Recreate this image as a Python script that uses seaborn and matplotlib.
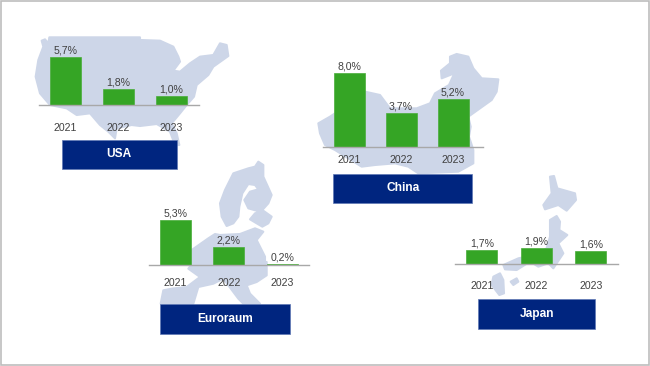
import matplotlib
matplotlib.use("Agg")
import matplotlib.pyplot as plt
import pandas as pd
import seaborn as sns
from matplotlib.patches import Polygon, Rectangle

sns.set_theme(style="white")
plt.rcParams["font.family"] = ["Liberation Sans", "DejaVu Sans"]

W, H = 650, 366
GREEN = "#35a525"
NAVY = "#00257f"
MAP = "#cdd6e8"
TEXT = "#404040"

years = ["2021", "2022", "2023"]
usa_values = [5.7, 1.8, 1.0]
china_values = [8.0, 3.7, 5.2]
euro_values = [5.3, 2.2, 0.2]
japan_values = [1.7, 1.9, 1.6]

# panel: name, values, axis left, right, baseline y, px per %, category spacing, tick pad, box(x0,x1,y0,y1)
panels = [
    ("USA", usa_values, 39, 199, 104.5, 8.4, 53.0, 13.0, (62, 176.5, 139.5, 169)),
    ("China", china_values, 323, 483, 146.7, 9.2, 52.0, 5.8, (333.3, 472, 173.7, 203)),
    ("Euroraum", euro_values, 148.7, 308.7, 265.3, 8.5, 53.5, 9.0, (159.7, 289.7, 304.3, 334)),
    ("Japan", japan_values, 454.7, 618.3, 264.3, 8.6, 54.5, 12.0, (478.3, 595.3, 299.3, 329.3)),
]

# decorative map silhouettes, (offset x, offset y, zoomed outline)
usa_shape = (0, 0, [(148,112),(420,112),(420,120),(480,122),(520,140),(535,170),(540,185),(520,212),(540,215),
    (570,190),(600,170),(640,165),(660,130),(680,135),(685,168),(640,200),(625,225),(590,255),(582,290),(560,315),
    (540,340),(515,370),(530,400),(538,435),(525,435),(510,395),(470,372),(420,378),(395,375),(350,385),(345,415),
    (325,395),(300,375),(270,340),(230,345),(200,325),(150,315),(120,280),(107,230),(115,180),(130,140),(125,122),
    (135,118),(145,130)])
china_shape = (325, 30, [(375,80),(395,72),(430,80),(445,115),(470,145),(520,148),(515,185),(500,210),(465,235),(430,260),
    (437,290),(432,320),(445,360),(445,400),(400,425),(280,430),(250,410),(210,400),(150,405),(110,410),(70,385),
    (30,360),(0,345),(-15,310),(-20,280),(15,260),(60,230),(90,190),(120,185),(165,195),(195,235),(275,235),(315,220),
    (330,190),(372,165),(388,130),(350,145),(348,122),(375,100)])
euro_north = (205, 160, [(160,5),(175,15),(175,50),(200,105),(190,130),(172,150),(200,170),(190,190),(172,200),(150,187),
    (135,178),(150,160),(165,155),(130,145),(118,120),(135,95),(160,88),(150,75),(130,72),(112,100),(103,140),(100,170),
    (85,190),(65,198),(50,170),(45,130),(60,90),(85,40),(130,25),(150,20)])
euro_mid = (140, 160, [(155,305),(155,270),(205,235),(225,222),(240,225),(300,222),(345,205),(370,215),(350,240),
    (375,290),(375,315),(155,315)])
euro_south = (150, 262, [(130,0),(115,20),(150,45),(110,75),(65,80),(40,85),(32,125),(130,125),(145,75),(190,65),(220,50),
    (235,70),(265,110),(280,125),(330,125),(300,95),(290,70),(320,60),(350,40),(350,0)])
hokkaido = (450, 170, [(300,20),(312,18),(322,55),(375,70),(378,90),(350,122),(325,105),(285,118),(280,105),(305,70)])
honshu = (450, 170, [(300,150),(320,138),(330,155),(328,180),(352,195),(325,220),(340,250),(310,295),(295,280),
    (265,290),(240,275),(200,300),(165,298),(160,285),(205,265),(255,255),(290,235),(300,200)])
kyushu = (450, 170, [(130,320),(150,310),(160,330),(162,370),(148,375),(125,345)])
shikoku = (450, 170, [(182,335),(200,325),(205,335),(190,345)])

fig = plt.figure(figsize=(W / 100, H / 100), dpi=100, facecolor="white")

bg = fig.add_axes([0, 0, 1, 1], zorder=0)
bg.set_xlim(0, W)
bg.set_ylim(H, 0)
bg.axis("off")
bg.add_patch(Rectangle((1, 1), W - 2.5, H - 2.5, fill=False, edgecolor="#bdbdbd", linewidth=1.2))
for ox, oy, pts in [usa_shape, china_shape, euro_north, euro_mid, euro_south, hokkaido, honshu, kyushu, shikoku]:
    bg.add_patch(Polygon([(ox + x / 3, oy + y / 3) for x, y in pts], closed=True, facecolor=MAP, edgecolor=MAP,
                         linewidth=1.5, joinstyle="round"))

for name, values, left, right, base, scale, step, pad, box in panels:
    top = base - 90
    ax = fig.add_axes([left / W, 1 - base / H, (right - left) / W, (base - top) / H], zorder=2)
    ax.patch.set_alpha(0)
    df = pd.DataFrame({"year": years, "value": values})
    sns.barplot(data=df, x="year", y="value", color=GREEN, saturation=1, width=31 / step, ax=ax, zorder=2,
                edgecolor="#48ad39", linewidth=0.5)
    ax.set_xlim(-0.5, -0.5 + (right - left) / step)
    ax.set_ylim(0, (base - top) / scale)
    ax.set_xlabel("")
    ax.set_ylabel("")
    ax.set_yticks([])
    ax.tick_params(axis="x", length=0, pad=pad, labelsize=7.6, labelcolor=TEXT)
    for s in ("top", "left", "right"):
        ax.spines[s].set_visible(False)
    ax.spines["bottom"].set_color("#a8a8a8")
    ax.spines["bottom"].set_linewidth(1.0)
    labels = [f"{v:.1f}".replace(".", ",") + "%" for v in values]
    ax.bar_label(ax.containers[0], labels=labels, padding=1.0, fontsize=7.6, color=TEXT)

    x0, x1, y0, y1 = box
    bg.add_patch(Rectangle((x0, y0), x1 - x0, y1 - y0, facecolor=NAVY, edgecolor="#5f78b5", linewidth=0.5, zorder=3))
    bg.text((x0 + x1) / 2, (y0 + y1) / 2, name, color="white", fontsize=8.6, fontweight="bold",
            ha="center", va="center", zorder=4)

fig.savefig("out.png", dpi=100)
